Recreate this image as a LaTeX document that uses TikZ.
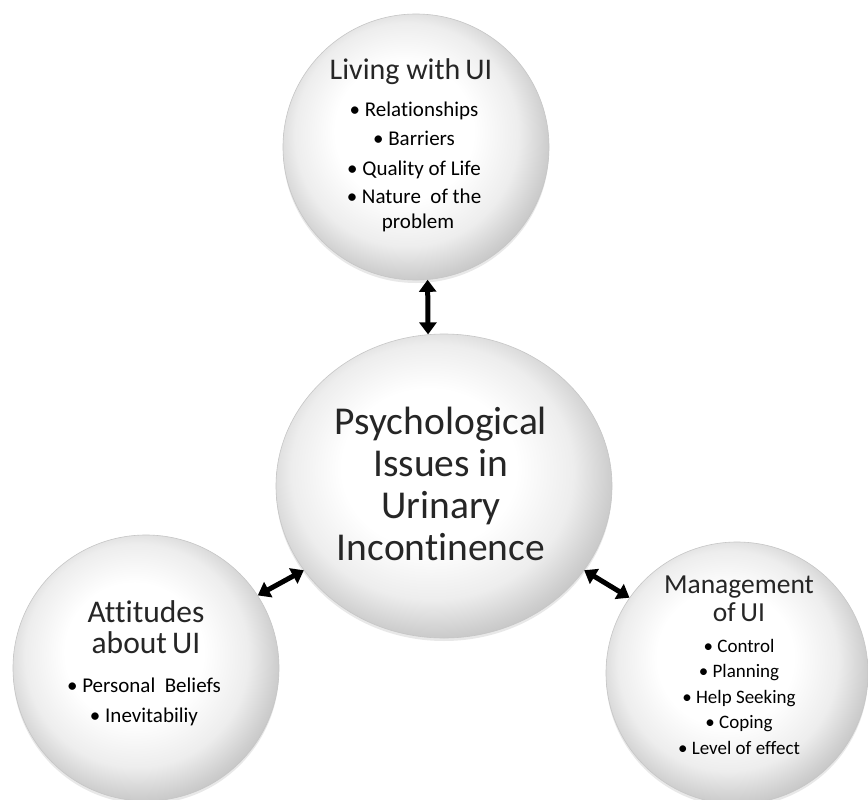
\documentclass[tikz,border=0pt]{standalone}
\usepackage{fontspec}
\setmainfont{Carlito}[Ligatures=NoCommon]
\usetikzlibrary{shapes.geometric,shadows,arrows.meta}
\pgfdeclareradialshading{disc}{\pgfpoint{-3bp}{4bp}}{color(0bp)=(white); color(13bp)=(white); color(21bp)=(gray!14); color(26bp)=(gray!38); color(30bp)=(gray!55); color(50bp)=(gray!55)}
\tikzset{
  bubble/.style={circle, minimum size=266pt, inner sep=0pt, shading=disc, draw=gray!45, line width=0.6pt,
    drop shadow={shadow xshift=0pt, shadow yshift=-3pt, opacity=0.18}},
  hubble/.style={ellipse, minimum width=336pt, minimum height=304pt, inner sep=0pt, shading=disc, draw=gray!45, line width=0.6pt,
    drop shadow={shadow xshift=0pt, shadow yshift=-3pt, opacity=0.18}},
  ttl/.style={anchor=base, inner sep=0pt, text=black!85},
  itm/.style={anchor=base, inner sep=0pt, text=black},
  link/.style={line width=5pt, {Triangle[length=12pt,width=17pt]}-{Triangle[length=12pt,width=17pt]}}
}
\begin{document}
\begin{tikzpicture}[x=1pt,y=-1pt]
\useasboundingbox (0,0) rectangle (868,800);
\fill[white] (0,0) rectangle (868,800);

% circles
\node[bubble] (top) at (416,147) {};
\node[hubble] (hub) at (444,486) {};
\node[bubble] (left) at (146,668) {};
\node[bubble, minimum size=262pt] (right) at (737,673) {};

% top texts
\begin{scope}[font=\fontsize{30}{34}\selectfont]
\node[ttl] (t0) at (411,80) {Living with\,UI};
\end{scope}
\begin{scope}[font=\fontsize{21}{24}\selectfont]
\node[itm] (t1) at (414,117) {• Relationships};
\node[itm] (t2) at (414,146) {• Barriers};
\node[itm] (t3) at (414,175) {• Quality of Life};
\node[itm] (t4) at (414,203) {• Nature\ \ of the};
\node[itm] (t5) at (418,228) {problem};
\end{scope}

% hub texts
\begin{scope}[font=\fontsize{39.5}{42}\selectfont]
\node[ttl] (h1) at (441,434) {Psychological};
\node[ttl] (h2) at (441,476) {Issues in};
\node[ttl] (h3) at (441,518) {Urinary};
\node[ttl] (h4) at (441,560) {Incontinence};
\end{scope}

% left texts
\begin{scope}[font=\fontsize{31.5}{34}\selectfont]
\node[ttl] (l1) at (146,622) {Attitudes};
\node[ttl] (l2) at (146,653) {about\,UI};
\end{scope}
\begin{scope}[font=\fontsize{21}{24}\selectfont]
\node[itm] (l3) at (144,692) {• Personal\ \ Beliefs};
\node[itm] (l4) at (144,722) {• Inevitabiliy};
\end{scope}

% right texts
\begin{scope}[font=\fontsize{27.5}{30}\selectfont]
\node[ttl] (r1) at (739,593) {Management};
\node[ttl] (r2) at (739,621) {of\,UI};
\end{scope}
\begin{scope}[font=\fontsize{19}{22}\selectfont]
\node[itm] (r3) at (739,652) {• Control};
\node[itm] (r4) at (739,677) {• Planning};
\node[itm] (r5) at (739,703) {• Help Seeking};
\node[itm] (r6) at (739,728) {• Coping};
\node[itm] (r7) at (739,754) {• Level of effect};
\end{scope}

% connectors
\draw[link] (top.-85) -- (hub.96);
\draw[link] (left.33) -- (hub.211);
\draw[link] (hub.-31) -- (right.145);
\end{tikzpicture}
\end{document}
